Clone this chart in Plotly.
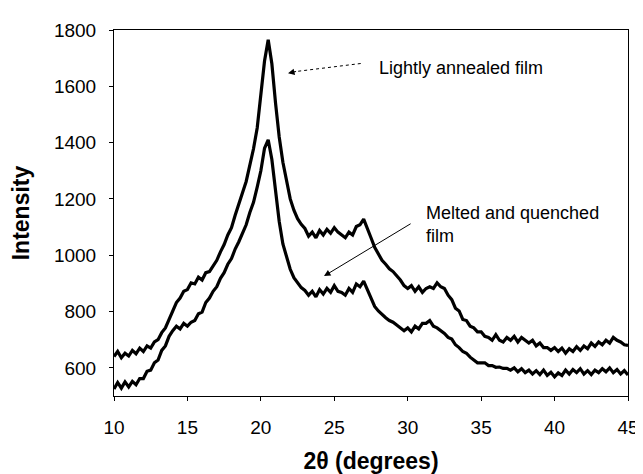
import plotly.graph_objects as go

two_theta = [10 + 0.25 * i for i in range(141)]

annealed = [
    640, 658, 636, 652, 642, 662, 650, 670, 658, 678, 670, 692, 700, 725, 742, 772,
    798, 832, 848, 872, 878, 902, 898, 922, 912, 938, 942, 962, 982, 1012, 1038, 1072,
    1098, 1142, 1178, 1222, 1262, 1322, 1378, 1452, 1560, 1690, 1765, 1680, 1540, 1420,
    1330, 1260, 1200, 1160, 1130, 1110, 1095, 1068, 1082, 1062, 1088, 1072, 1092, 1078,
    1098, 1082, 1072, 1062, 1082, 1072, 1102, 1108, 1128, 1098, 1062, 1028, 1002, 982,
    968, 952, 942, 928, 912, 892, 882, 892, 872, 888, 868, 882, 888, 882, 902, 888,
    882, 858, 842, 812, 802, 772, 768, 748, 742, 728, 728, 712, 708, 698, 718, 698,
    692, 708, 698, 712, 692, 708, 698, 688, 698, 678, 688, 672, 672, 662, 672, 658,
    670, 652, 668, 658, 675, 662, 678, 668, 688, 676, 692, 682, 698, 688, 708, 698,
    692, 682, 680,
]

quenched = [
    525, 548, 528, 550, 532, 552, 540, 562, 562, 588, 592, 618, 628, 662, 678, 712,
    732, 748, 738, 758, 748, 762, 768, 792, 798, 832, 848, 872, 888, 918, 938, 968,
    988, 1022, 1048, 1078, 1108, 1152, 1188, 1242, 1300, 1380, 1410, 1340, 1220, 1120,
    1040, 990, 950, 920, 900, 885, 875, 858, 872, 852, 878, 862, 882, 868, 892, 872,
    868, 858, 882, 868, 898, 888, 908, 878, 848, 818, 802, 788, 778, 768, 762, 752,
    742, 732, 742, 728, 748, 738, 758, 758, 768, 748, 742, 732, 722, 708, 702, 682,
    672, 658, 652, 638, 628, 618, 618, 618, 608, 608, 602, 603, 598, 598, 592, 600,
    586, 597, 583, 592, 578, 590, 576, 592, 573, 584, 568, 582, 573, 592, 578, 594,
    583, 597, 578, 590, 576, 592, 583, 597, 586, 600, 583, 594, 578, 590, 575,
]

x_ticks = [10, 15, 20, 25, 30, 35, 40, 45]
y_ticks = [600, 800, 1000, 1200, 1400, 1600, 1800]

FONT = "Liberation Sans, Arial, sans-serif"

fig = go.Figure()
for ys in (annealed, quenched):
    fig.add_trace(go.Scatter(x=two_theta, y=ys, mode="lines",
                             line=dict(color="black", width=3.2), showlegend=False))

# dotted arrow for "Lightly annealed film"
fig.add_shape(type="line", x0=26.8, y0=1681, x1=22.3, y1=1652,
              line=dict(color="black", width=1, dash="dot"))
fig.add_annotation(x=21.85, y=1646, ax=22.5, ay=1654, xref="x", yref="y",
                   axref="x", ayref="y", text="", showarrow=True,
                   arrowhead=2, arrowsize=1.3, arrowwidth=1, arrowcolor="black")
fig.add_annotation(x=27.9, y=1665, text="Lightly annealed film", showarrow=False,
                   xanchor="left", yanchor="middle",
                   font=dict(family=FONT, size=18, color="black"))

# arrow for "Melted and quenched film"
fig.add_annotation(x=24.3, y=926, ax=30.3, ay=1115, xref="x", yref="y",
                   axref="x", ayref="y", text="", showarrow=True,
                   arrowhead=2, arrowsize=1.3, arrowwidth=1, arrowcolor="black")
fig.add_annotation(x=31.1, y=1110, text="Melted and quenched<br>film", showarrow=False,
                   xanchor="left", yanchor="middle", align="left",
                   font=dict(family=FONT, size=18, color="black"))

fig.update_layout(
    width=643, height=474,
    margin=dict(l=104, r=12, t=21, b=81),
    paper_bgcolor="white", plot_bgcolor="white",
    font=dict(family=FONT, size=19, color="black"),
)
fig.update_xaxes(range=[10, 45], tickvals=x_ticks, ticks="outside", ticklen=4,
                 tickcolor="black", showline=True, linecolor="black", linewidth=1,
                 mirror=True, showgrid=False, zeroline=False,
                 ticklabelstandoff=10,
                 tickfont=dict(family=FONT, size=19),
                 title=dict(text="<b>2θ (degrees)</b>", font=dict(family=FONT, size=23),
                            standoff=16))
fig.update_yaxes(range=[500, 1800], tickvals=y_ticks, ticks="outside", ticklen=4,
                 tickcolor="black", showline=True, linecolor="black", linewidth=1,
                 mirror=True, showgrid=False, zeroline=False,
                 ticklabelstandoff=9,
                 tickfont=dict(family=FONT, size=19),
                 title=dict(text="<b>Intensity</b>", font=dict(family=FONT, size=23),
                            standoff=18))

fig.write_html("out.html")
